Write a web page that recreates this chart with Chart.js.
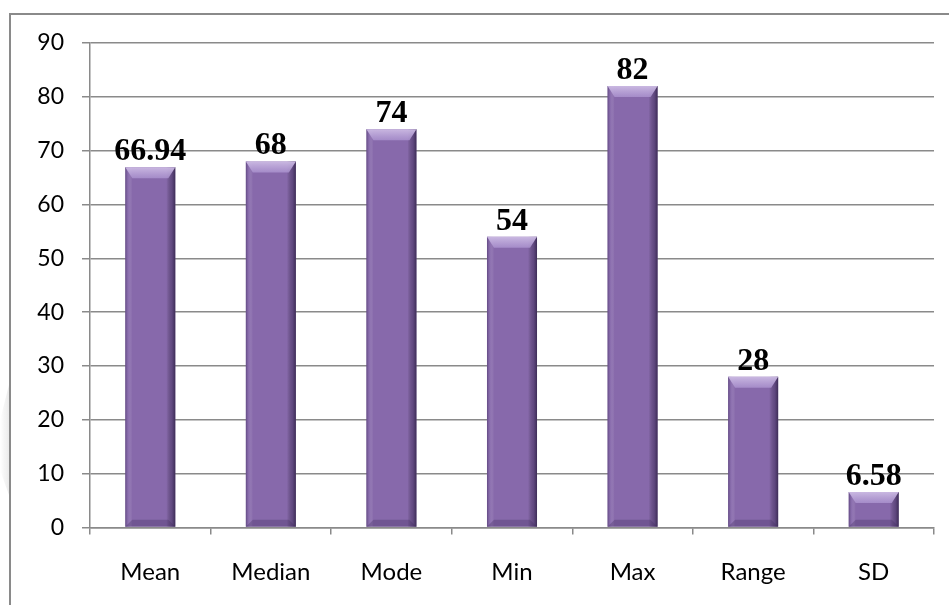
<!DOCTYPE html>
<html>
<head>
<meta charset="utf-8">
<script src="https://cdn.jsdelivr.net/npm/chart.js@4.4.1/dist/chart.umd.min.js"></script>
<style>
  html, body { margin: 0; padding: 0; background: #fff; }
  #wrap { width: 949px; height: 605px; position: relative; }
</style>
</head>
<body>
<div id="wrap"><canvas id="c" width="949" height="605"></canvas></div>
<script>
const categories = ["Mean", "Median", "Mode", "Min", "Max", "Range", "SD"];
const values = [66.94, 68, 74, 54, 82, 28, 6.58];
const valueLabels = ["66.94", "68", "74", "54", "82", "28", "6.58"];
const yTicks = [0, 10, 20, 30, 40, 50, 60, 70, 80, 90];

const framePlugin = {
  id: 'frame',
  beforeDraw(chart) {
    const ctx = chart.ctx;
    ctx.save();
    const g = ctx.createLinearGradient(0, 0, 10, 0);
    g.addColorStop(0, 'rgba(210,210,210,0)');
    g.addColorStop(1, 'rgba(210,210,210,0.5)');
    ctx.fillStyle = g;
    ctx.beginPath();
    ctx.moveTo(9, 385); ctx.lineTo(9, 495); ctx.lineTo(0, 470); ctx.lineTo(0, 420); ctx.closePath();
    ctx.fill();
    ctx.strokeStyle = '#8a8a8a';
    ctx.lineWidth = 2;
    ctx.beginPath();
    ctx.moveTo(949, 14);
    ctx.lineTo(10, 14);
    ctx.lineTo(10, 605);
    ctx.stroke();
    ctx.restore();
  }
};

const bevelPlugin = {
  id: 'bevel',
  afterDatasetsDraw(chart) {
    const ctx = chart.ctx;
    const meta = chart.getDatasetMeta(0);
    ctx.save();
    meta.data.forEach((bar, i) => {
      const w = bar.width;
      const l = bar.x - w / 2, r = bar.x + w / 2;
      const t = bar.y, b = bar.base;
      const h = b - t;
      const bv = Math.min(11, h / 2.2);
      const sv = Math.min(7, w / 5);
      const sg = ctx.createLinearGradient(l, 0, r, 0);
      sg.addColorStop(0, 'rgba(60,40,90,0.5)');
      sg.addColorStop(0.06, 'rgba(150,125,185,0.3)');
      sg.addColorStop(0.14, 'rgba(255,255,255,0)');
      sg.addColorStop(0.82, 'rgba(0,0,0,0)');
      sg.addColorStop(0.93, 'rgba(40,25,65,0.4)');
      sg.addColorStop(1, 'rgba(30,20,50,0.7)');
      ctx.fillStyle = sg;
      ctx.fillRect(l, t, w, h);
      const tg = ctx.createLinearGradient(0, t, 0, t + bv);
      tg.addColorStop(0, 'rgba(205,188,228,0.95)');
      tg.addColorStop(1, 'rgba(172,148,208,0.8)');
      ctx.fillStyle = tg;
      ctx.beginPath();
      ctx.moveTo(l, t); ctx.lineTo(r, t); ctx.lineTo(r - sv, t + bv); ctx.lineTo(l + sv, t + bv); ctx.closePath();
      ctx.fill();
      const bb = Math.min(7, h / 3);
      ctx.fillStyle = 'rgba(60,40,90,0.3)';
      ctx.beginPath();
      ctx.moveTo(l, b); ctx.lineTo(r, b); ctx.lineTo(r - sv, b - bb); ctx.lineTo(l + sv, b - bb); ctx.closePath();
      ctx.fill();
      ctx.fillStyle = '#000';
      ctx.font = 'bold 32px "Liberation Serif", "Times New Roman", serif';
      ctx.textAlign = 'center';
      ctx.textBaseline = 'alphabetic';
      ctx.fillText(valueLabels[i], bar.x, t - 7);
    });
    ctx.restore();
  }
};

new Chart(document.getElementById('c'), {
  type: 'bar',
  data: {
    labels: categories,
    datasets: [{
      data: values,
      backgroundColor: '#8769ab',
      borderWidth: 0,
      barPercentage: 0.415,
      categoryPercentage: 1.0
    }]
  },
  options: {
    responsive: false,
    animation: false,
    devicePixelRatio: 1,
    layout: { padding: { left: 0, right: 15, top: 43, bottom: 0 } },
    plugins: { legend: { display: false }, tooltip: { enabled: false } },
    scales: {
      x: {
        afterFit(s) { s.height = 77.5; },
        grid: { drawOnChartArea: false, color: '#8a8a8a', lineWidth: 1.5, tickLength: 7, offset: true },
        border: { color: '#8a8a8a', width: 1.5 },
        ticks: { color: '#000', font: { family: 'Lato', size: 24 }, padding: 23 }
      },
      y: {
        min: 0, max: 90,
        afterFit(s) { s.width = 90; },
        afterBuildTicks(s) { s.ticks = yTicks.map(v => ({ value: v })); },
        grid: { color: '#8a8a8a', lineWidth: 1.5, tickLength: 8 },
        border: { color: '#8a8a8a', width: 1.5 },
        ticks: { color: '#000', font: { family: 'Lato', size: 23 }, padding: 18 }
      }
    }
  },
  plugins: [framePlugin, bevelPlugin]
});
</script>
</body>
</html>
